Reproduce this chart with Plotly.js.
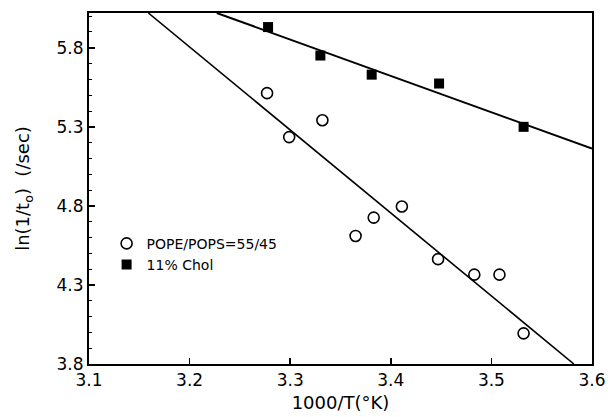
<!DOCTYPE html>
<html>
<head>
<meta charset="utf-8">
<script src="https://cdn.plot.ly/plotly-3.0.1.min.js"></script>
<style>html,body{margin:0;padding:0;background:#fff;}#chart{width:608px;height:417px;}</style>
</head>
<body>
<div id="chart"></div>
<script>
// Data
const popeX = [3.277, 3.299, 3.332, 3.365, 3.383, 3.411, 3.447, 3.483, 3.508, 3.532];
const popeY = [5.513, 5.235, 5.342, 4.610, 4.726, 4.796, 4.463, 4.365, 4.365, 3.994];
const cholX = [3.278, 3.330, 3.381, 3.448, 3.532];
const cholY = [5.931, 5.751, 5.630, 5.574, 5.300];
// Fitted straight lines as drawn in the figure (end points)
const popeFitX = [3.159, 3.582];
const popeFitY = [6.02, 3.80];
const cholFitX = [3.227, 3.60];
const cholFitY = [6.02, 5.162];
const xTicks = [3.1, 3.2, 3.3, 3.4, 3.5, 3.6];
const yTicks = [3.8, 4.3, 4.8, 5.3, 5.8];
const names = ['POPE/POPS=55/45', '11% Chol'];

const FONT = 'DejaVu Sans, Liberation Sans, Arial, sans-serif';

const traces = [
  {x: popeFitX, y: popeFitY, mode: 'lines', line: {color: '#000', width: 1.6}, showlegend: false, hoverinfo: 'skip'},
  {x: cholFitX, y: cholFitY, mode: 'lines', line: {color: '#000', width: 2}, showlegend: false, hoverinfo: 'skip'},
  {x: popeX, y: popeY, mode: 'markers', name: names[0],
   marker: {symbol: 'circle-open', size: 11, color: '#000', line: {width: 1.6, color: '#000'}}},
  {x: cholX, y: cholY, mode: 'markers', name: names[1],
   marker: {symbol: 'square', size: 10, color: '#000', line: {width: 0}}}
];

const layout = {
  width: 608, height: 417,
  margin: {l: 89, r: 16, t: 13, b: 53, pad: 0},
  paper_bgcolor: '#fff', plot_bgcolor: '#fff',
  font: {family: FONT, color: '#000', size: 16},
  showlegend: true,
  legend: {x: 0.035, y: 0.388, xanchor: 'left', yanchor: 'top', bgcolor: 'rgba(0,0,0,0)',
           font: {family: FONT, size: 14, color: '#000'}, itemwidth: 30, tracegroupgap: 0},
  xaxis: {
    range: [3.1, 3.6], tickvals: xTicks, ticktext: xTicks.map(v => v.toFixed(1)),
    ticks: 'inside', ticklen: 6, tickwidth: 1.5, tickcolor: '#000',
    showline: true, linecolor: '#000', linewidth: 2, mirror: true,
    showgrid: false, zeroline: false,
    tickfont: {family: FONT, size: 17, color: '#000'},
    title: {text: '1000/T(°K)', font: {family: FONT, size: 18, color: '#000'}, standoff: 7}
  },
  yaxis: {
    range: [3.8, 6.02], tickvals: yTicks, ticktext: yTicks.map(v => v.toFixed(1)),
    ticks: 'inside', ticklen: 6, tickwidth: 1.5, tickcolor: '#000',
    minor: {dtick: 0.1, ticks: 'inside', ticklen: 3, tickcolor: '#000', tickwidth: 1, showgrid: false},
    showline: true, linecolor: '#000', linewidth: 2, mirror: true,
    showgrid: false, zeroline: false,
    tickfont: {family: FONT, size: 17, color: '#000'},
    title: {text: 'ln(1/t<sub>o</sub>)  (/sec)', font: {family: FONT, size: 18, color: '#000'}, standoff: 22}
  }
};

Plotly.newPlot('chart', traces, layout, {displayModeBar: false, staticPlot: true});
</script>
</body>
</html>
